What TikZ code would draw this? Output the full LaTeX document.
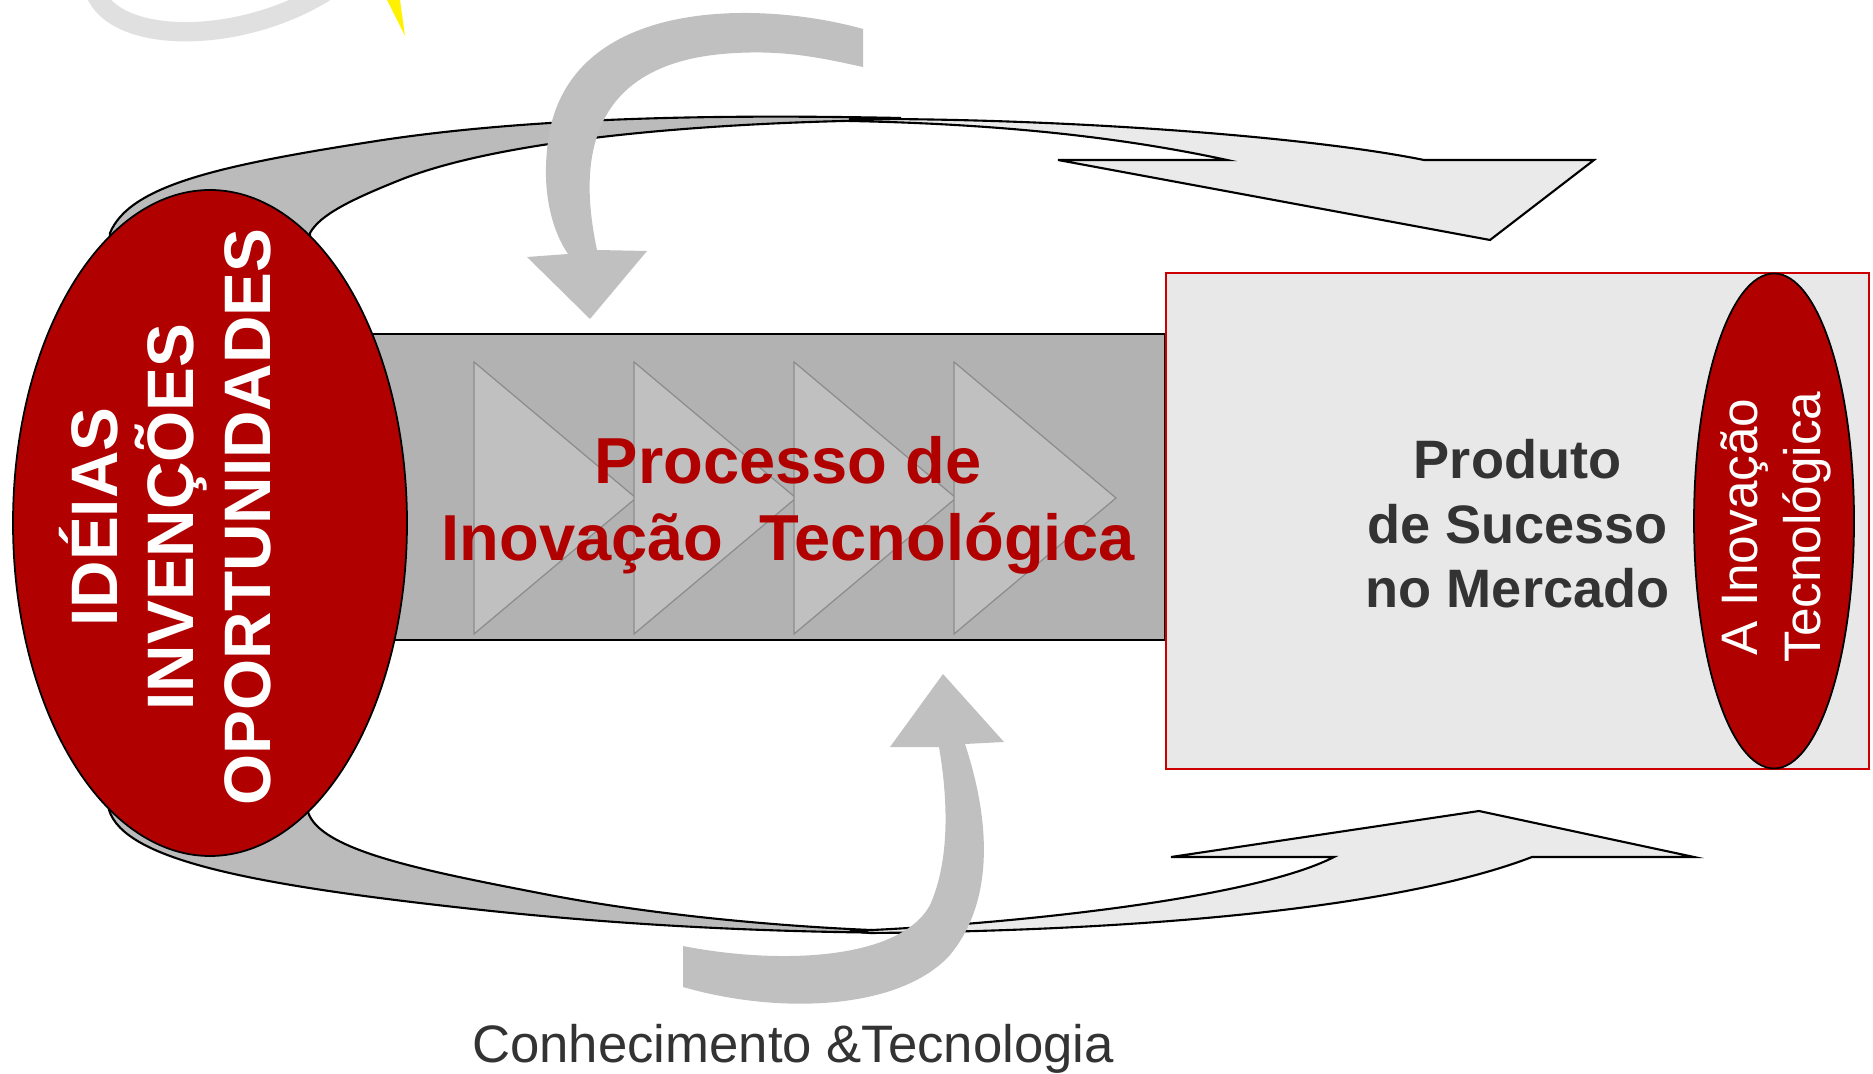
\documentclass[tikz,border=0pt]{standalone}
\usepackage{fontspec}
\setmainfont{Liberation Sans}
\usetikzlibrary{shapes.geometric}

\definecolor{ired}{RGB}{176,0,0}
\definecolor{iframe}{RGB}{204,0,0}
\definecolor{iband}{RGB}{178,178,178}
\definecolor{ichev}{RGB}{192,192,192}
\definecolor{iback}{RGB}{187,187,187}
\definecolor{ifront}{RGB}{234,234,234}
\definecolor{ibox}{RGB}{232,232,232}
\definecolor{itext}{RGB}{51,51,51}
\definecolor{ihalo}{RGB}{224,224,224}

\tikzset{oval/.style={draw, ellipse, fill=ired, inner sep=0pt, line width=0.5pt},
  ribbon/.style={draw, line width=0.6pt},
  chev/.style={draw=black!45, fill=ichev, line width=0.35pt},
  curlarrow/.style={fill=ichev}}

\begin{document}
\begin{tikzpicture}[x=0.1mm, y=-0.1mm]
    \useasboundingbox (0,0) rectangle (1873,1074);

    \draw[ihalo, line width=5.5pt] (95,-8) .. controls (115,45) and (240,45) .. (325,-8);
    \fill[yellow] (387,0) -- (405,36) -- (400,0) -- cycle;

    \draw[ribbon, fill=iback] (110,260) -- (110,233) .. controls (130,185) and (220,165) .. (383,140) .. controls (550,115) and (750,115) .. (900,118) -- (900,120) .. controls (700,122) and (500,140) .. (400,180) .. controls (350,200) and (320,215) .. (310,233) -- (310,260) -- cycle;

    \draw[ribbon, fill=iback] (110,790) -- (109,810) .. controls (125,860) and (250,885) .. (482,910) .. controls (650,928) and (800,933) .. (940,933) -- (940,932) .. controls (800,930) and (650,915) .. (539,893) .. controls (420,870) and (320,850) .. (308,812) -- (308,790) -- cycle;

    \draw[ribbon, fill=ifront] (850,119) .. controls (1050,118) and (1300,135) .. (1424,160) -- (1594,160) -- (1490,240) -- (1058,160) -- (1227,160) .. controls (1120,137) and (1000,124) .. (850,121) -- cycle;

    \draw[ribbon, fill=ifront] (850,931) .. controls (1000,925) and (1250,900) .. (1334,857) -- (1171,857) -- (1479,811) -- (1694,857) -- (1532,857) .. controls (1420,900) and (1200,930) .. (870,933) -- cycle;

    \node[draw, fill=iband, line width=0.6pt, inner sep=0pt, minimum width=86.5mm, minimum height=30.6mm] (band) at (732.5,487) {};

    \foreach \i in {0,...,3}
        \draw[chev] (474+160*\i,362) -- (636+160*\i,498) -- (474+160*\i,634) -- cycle;

    \node[text=ired, align=center, font=\bfseries\fontsize{18.5}{21.9}\selectfont] (process) at ([xshift=5.55mm, yshift=-1.8mm]band.center) {Processo de\\Inovação\ \ Tecnológica};

    \node[oval, minimum width=39.4mm, minimum height=66.6mm] (ideas) at (210,523) {};
    \node[rotate=90, text=white, align=center, font=\bfseries\fontsize{18.7}{21.8}\selectfont] (ideastext) at ([xshift=-4.5mm, yshift=0.6mm]ideas.center) {IDÉIAS\\INVENÇÕES\\OPORTUNIDADES};

    \node[draw=iframe, fill=ibox, line width=0.6pt, inner sep=0pt, minimum width=70.3mm, minimum height=49.6mm, anchor=north west] (market) at (1165,272) {};
    \node[text=itext, align=center, font=\bfseries\fontsize{15.4}{18.35}\selectfont] (product) at ([yshift=-0.3mm]market.center) {Produto\\de Sucesso\\no Mercado};

    \node[oval, minimum width=16mm, minimum height=49.5mm] (tech) at (1774,521) {};
    \node[rotate=90, text=white, align=center, font=\fontsize{14.6}{17.8}\selectfont] (techtext) at ([xshift=0.2mm, yshift=-0.6mm]tech.center) {A Inovação\\Tecnológica};

    \fill[curlarrow] (863,29) .. controls (760,0) and (560,-5) .. (547,150) .. controls (542,200) and (555,235) .. (568,254) -- (527,257) -- (590,319) -- (647,251) -- (597,250) .. controls (580,170) and (580,60) .. (737,53) .. controls (790,50) and (830,60) .. (863,67) -- cycle;

    \fill[curlarrow] (683,946) .. controls (780,965) and (900,960) .. (930,905) .. controls (950,860) and (948,800) .. (939,747) -- (890,747) -- (943,674) -- (1004,742) -- (965,744) .. controls (990,820) and (995,900) .. (950,955) .. controls (900,1010) and (780,1015) .. (683,987) -- cycle;

    \node[anchor=base, text=itext, font=\fontsize{15}{18}\selectfont] (knowledge) at (793,1062) {Conhecimento \&Tecnologia};
\end{tikzpicture}
\end{document}
